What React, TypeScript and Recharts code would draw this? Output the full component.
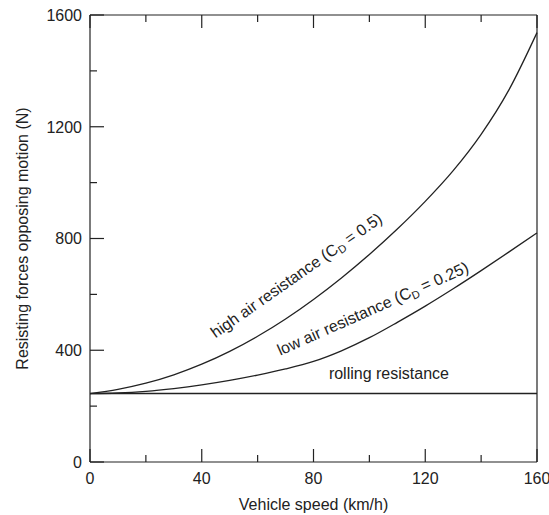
import { LineChart, Line, XAxis, YAxis, ReferenceDot } from "recharts";

// Vehicle speed (km/h)
const speeds = [0, 10, 20, 30, 40, 50, 60, 70, 80, 90, 100, 110, 120, 130, 140, 150, 160];
// Resisting forces (N)
const rollingResistance = [245, 245, 245, 245, 245, 245, 245, 245, 245, 245, 245, 245, 245, 245, 245, 245, 245];
const highAirResistance = [245, 260, 282, 312, 350, 396, 450, 512, 582, 659, 743, 834, 933, 1043, 1173, 1333, 1537];
const lowAirResistance = [245, 247, 253, 263, 276, 292, 311, 333, 360, 398, 445, 500, 558, 620, 685, 752, 820];

const xTicks = [0, 20, 40, 60, 80, 100, 120, 140, 160];
const yTicks = [0, 200, 400, 600, 800, 1000, 1200, 1400, 1600];

const data = speeds.map((speed, i) => ({
  speed,
  rolling: rollingResistance[i],
  high: highAirResistance[i],
  low: lowAirResistance[i],
}));

const ink = "#222";
const font = "'Liberation Sans', Arial, Helvetica, sans-serif";
const fontSize = 16;

// ticks point inward; labels only on the major ones
const BottomTick = (props: any) => {
  const { x, y, payload } = props;
  const major = payload.value % 40 === 0;
  return (
    <g>
      <line x1={x} y1={y} x2={x} y2={y - (major ? 13 : 7)} stroke={ink} strokeWidth={1.2} />
      {major && (
        <text x={x} y={y + 22} textAnchor="middle" fontSize={fontSize} fontFamily={font} fill={ink}>
          {payload.value}
        </text>
      )}
    </g>
  );
};

const TopTick = (props: any) => {
  const { x, y, payload } = props;
  const major = payload.value % 40 === 0;
  return <line x1={x} y1={y} x2={x} y2={y + (major ? 13 : 7)} stroke={ink} strokeWidth={1.2} />;
};

const LeftTick = (props: any) => {
  const { x, y, payload } = props;
  const major = payload.value % 400 === 0;
  return (
    <g>
      <line x1={x} y1={y} x2={x + (major ? 14 : 7)} y2={y} stroke={ink} strokeWidth={1.2} />
      {major && (
        <text x={x - 8} y={y} dy="0.36em" textAnchor="end" fontSize={fontSize} fontFamily={font} fill={ink}>
          {payload.value}
        </text>
      )}
    </g>
  );
};

const RightTick = (props: any) => {
  const { x, y, payload } = props;
  const major = payload.value % 400 === 0;
  return <line x1={x} y1={y} x2={x - (major ? 14 : 7)} y2={y} stroke={ink} strokeWidth={1.2} />;
};

const CurveLabel = ({ cx, cy, angle, name, cd }: any) => (
  <text
    x={cx}
    y={cy}
    textAnchor="middle"
    fontSize={fontSize}
    fontFamily={font}
    fill={ink}
    transform={`rotate(${angle}, ${cx}, ${cy})`}
  >
    {cd ? (
      <>
        {name} (C
        <tspan fontSize={11} dy={3}>D</tspan>
        <tspan dy={-3}> = {cd})</tspan>
      </>
    ) : (
      name
    )}
  </text>
);

export default function App() {
  return (
    <div style={{ position: "absolute", left: 0, top: 0, background: "#fff" }}>
      <LineChart width={549} height={515} data={data} margin={{ top: 14, right: 11, bottom: 52, left: 89 }}>
        <XAxis
          dataKey="speed"
          type="number"
          domain={[0, 160]}
          ticks={xTicks}
          interval={0}
          height={1}
          tickSize={0}
          tickMargin={0}
          tick={BottomTick}
          axisLine={{ stroke: ink, strokeWidth: 1.2 }}
          label={{
            content: ({ viewBox }: any) => (
              <text
                x={viewBox.x + viewBox.width / 2}
                y={viewBox.y + 48}
                textAnchor="middle"
                fontSize={fontSize}
                fontFamily={font}
                fill={ink}
              >
                Vehicle speed (km/h)
              </text>
            ),
          }}
        />
        <XAxis
          xAxisId="top"
          orientation="top"
          dataKey="speed"
          type="number"
          domain={[0, 160]}
          ticks={xTicks}
          interval={0}
          height={1}
          tickSize={0}
          tickMargin={0}
          tick={TopTick}
          axisLine={{ stroke: ink, strokeWidth: 1.2 }}
        />
        <YAxis
          type="number"
          domain={[0, 1600]}
          ticks={yTicks}
          interval={0}
          width={1}
          tickSize={0}
          tickMargin={0}
          tick={LeftTick}
          axisLine={{ stroke: ink, strokeWidth: 1.2 }}
          label={{
            content: ({ viewBox }: any) => {
              const cx = viewBox.x - 61;
              const cy = viewBox.y + viewBox.height / 2;
              return (
                <text
                  x={cx}
                  y={cy}
                  textAnchor="middle"
                  fontSize={fontSize}
                  fontFamily={font}
                  fill={ink}
                  transform={`rotate(-90, ${cx}, ${cy})`}
                >
                  Resisting forces opposing motion (N)
                </text>
              );
            },
          }}
        />
        <YAxis
          yAxisId="right"
          orientation="right"
          type="number"
          domain={[0, 1600]}
          ticks={yTicks}
          interval={0}
          width={1}
          tickSize={0}
          tickMargin={0}
          tick={RightTick}
          axisLine={{ stroke: ink, strokeWidth: 1.2 }}
        />
        <Line type="monotone" dataKey="rolling" stroke={ink} strokeWidth={1.4} dot={false} isAnimationActive={false} />
        <Line type="monotone" dataKey="high" stroke={ink} strokeWidth={1.3} dot={false} isAnimationActive={false} />
        <Line type="monotone" dataKey="low" stroke={ink} strokeWidth={1.3} dot={false} isAnimationActive={false} />
        <ReferenceDot
          x={75}
          y={652}
          r={0}
          shape={(p: any) => <CurveLabel cx={p.cx} cy={p.cy} angle={-35} name="high air resistance" cd="0.5" />}
        />
        <ReferenceDot
          x={102}
          y={531}
          r={0}
          shape={(p: any) => <CurveLabel cx={p.cx} cy={p.cy} angle={-24} name="low air resistance" cd="0.25" />}
        />
        <ReferenceDot
          x={107}
          y={296}
          r={0}
          shape={(p: any) => <CurveLabel cx={p.cx} cy={p.cy} angle={0} name="rolling resistance" />}
        />
      </LineChart>
    </div>
  );
}
